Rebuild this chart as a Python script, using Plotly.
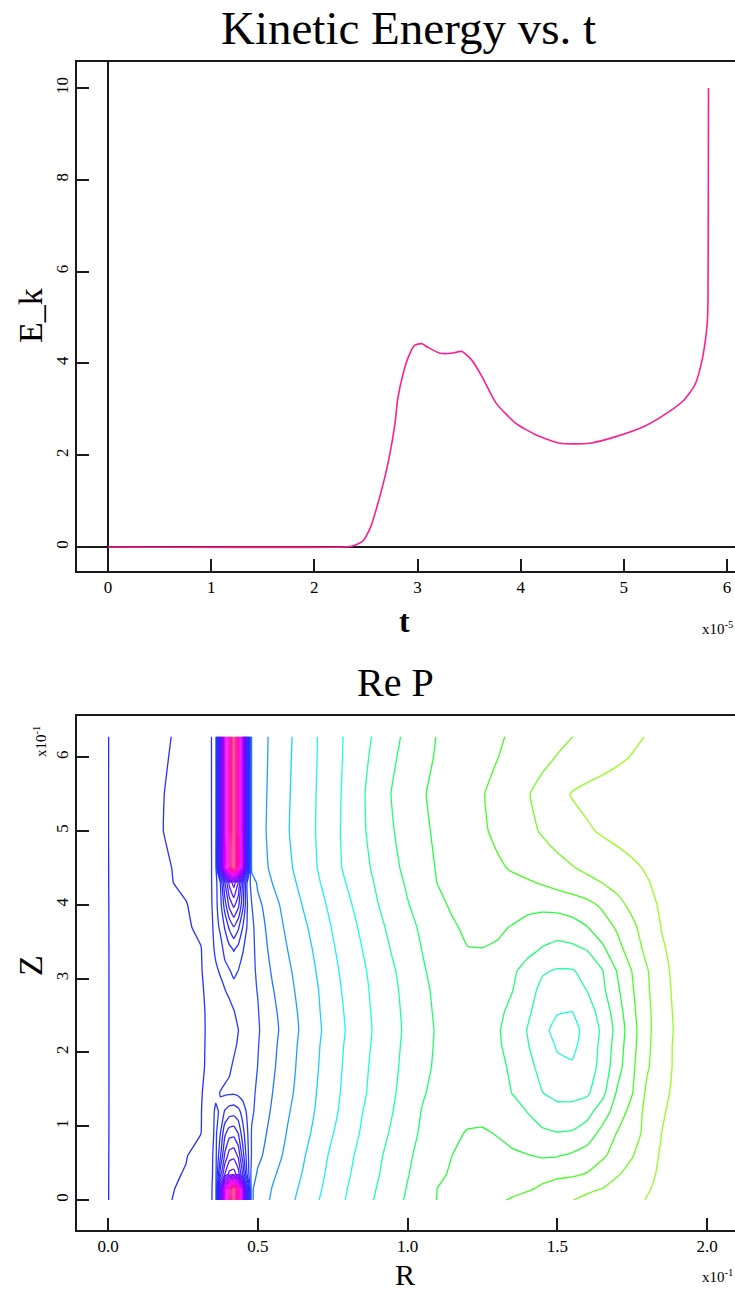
import plotly.graph_objects as go

# ---------------- Kinetic energy history (t in units of 1e-5) ----------------
t_e5 = [0.0, 2.29, 2.37, 2.47, 2.55, 2.61, 2.68, 2.73, 2.78, 2.81, 2.86, 2.91, 2.97,
        3.04, 3.10, 3.22, 3.33, 3.43, 3.53, 3.63, 3.76, 3.95, 4.15, 4.38, 4.67, 4.93,
        5.20, 5.42, 5.59, 5.69, 5.75, 5.79, 5.81, 5.815, 5.818, 5.82]
ek = [0.0, 0.0, 0.02, 0.13, 0.46, 0.9, 1.49, 2.0, 2.66, 3.25, 3.77, 4.13, 4.39,
      4.43, 4.35, 4.22, 4.22, 4.26, 4.06, 3.69, 3.14, 2.70, 2.44, 2.26, 2.26, 2.41,
      2.63, 2.92, 3.22, 3.54, 3.99, 4.50, 4.94, 5.38, 7.5, 10.0]

# ---------------- Re P on the (R, Z) grid, R and Z in units of 1e-1 ----------------
r_e1 = [0, 0.1, 0.18, 0.26, 0.31, 0.345, 0.36, 0.375, 0.39, 0.405, 0.42, 0.435, 0.45,
        0.465, 0.48, 0.5, 0.55, 0.6, 0.65, 0.7, 0.75, 0.8, 0.85, 0.9, 0.95, 1.0, 1.05,
        1.1, 1.15, 1.2, 1.25, 1.3, 1.35, 1.4, 1.45, 1.5, 1.55, 1.6, 1.65, 1.7, 1.75,
        1.8, 1.85, 1.9, 1.95, 2.0]
z_e1 = [0, 0.15, 0.35, 0.6, 0.9, 1.2, 1.45, 1.8, 2.1, 2.3, 2.55, 2.85, 3.1, 3.4, 3.7,
        4.0, 4.3, 4.5, 5.0, 5.5, 6.0, 6.28]

rep = [
    [-0.01, 0.45, 0.8, 1.28, 1.67, 1.95, 2.3, -5, -11, -15, -19.5, -15, -10, -2, 3.9, 4.34, 5.18, 5.72, 6.30, 6.94, 7.52, 8.09, 8.62, 9.14, 9.64, 10.13, 10.6, 11.03, 11.24, 11.45, 11.66, 11.87, 12.09, 12.31, 12.54, 12.76, 12.98, 13.19, 13.4, 13.6, 13.82, 14.03, 14.22, 14.38, 14.5, 14.6],
    [-0.01, 0.42, 0.76, 1.21, 1.64, 1.95, 2.3, -5, -11, -15, -19.5, -15, -10, -2, 3.9, 4.29, 5.06, 5.61, 6.19, 6.83, 7.43, 8.01, 8.53, 9.05, 9.55, 10.05, 10.52, 11.01, 11.15, 11.3, 11.45, 11.6, 11.75, 11.9, 12.12, 12.4, 12.65, 12.85, 13.01, 13.35, 13.65, 13.95, 14.15, 14.35, 14.5, 14.6],
    [-0.01, 0.40, 0.71, 1.07, 1.58, 1.93, 2.2, -1.5, -4.0, -5.3, -5.5, -4.5, -2.0, 1.2, 3.45, 4.14, 4.86, 5.46, 6.04, 6.71, 7.32, 7.89, 8.41, 8.93, 9.44, 9.95, 10.4, 10.85, 11.1, 11.3, 11.45, 11.58, 11.68, 11.73, 11.77, 11.81, 11.85, 12.06, 12.5, 12.92, 13.3, 13.8, 14.15, 14.35, 14.5, 14.6],
    [-0.01, 0.36, 0.65, 0.94, 1.45, 1.91, 2.2, 0.2, -2.2, -3.5, -3.7, -2.8, -0.5, 1.6, 3.1, 3.74, 4.58, 5.25, 5.88, 6.56, 7.2, 7.77, 8.31, 8.82, 9.34, 9.86, 10.27, 10.64, 11.01, 11.2, 11.3, 11.3, 11.2, 11.05, 10.9, 10.95, 11.15, 11.45, 11.85, 12.35, 12.95, 13.5, 14.15, 14.35, 14.5, 14.6],
    [-0.01, 0.32, 0.57, 0.83, 0.98, 1.77, 2.2, 1.0, -0.8, -1.6, -1.7, -1.0, 0.6, 1.85, 3.1, 3.5, 4.36, 5.07, 5.67, 6.30, 6.97, 7.56, 8.12, 8.63, 9.14, 9.69, 10.14, 10.45, 10.78, 11.08, 11.12, 10.95, 10.6, 10.35, 10.15, 10.05, 10.1, 10.5, 11.3, 12.05, 12.65, 13.25, 14.02, 14.3, 14.45, 14.58],
    [-0.01, 0.31, 0.56, 0.81, 0.96, 1.61, 2.2, 1.85, 0.9, 0.5, 0.4, 0.7, 1.4, 2.2, 2.85, 3.29, 4.15, 4.9, 5.52, 6.13, 6.78, 7.39, 7.99, 8.49, 8.98, 9.53, 10.05, 10.35, 10.55, 10.68, 10.7, 10.6, 10.35, 9.98, 9.6, 9.35, 9.4, 9.65, 10.5, 11.45, 12.35, 13.3, 13.9, 14.3, 14.45, 14.58],
    [-0.01, 0.30, 0.55, 0.79, 0.94, 1.38, 1.75, 2.04, 2.16, 2.15, 2.12, 2.25, 2.45, 2.65, 2.85, 3.12, 4.01, 4.75, 5.42, 6.05, 6.69, 7.3, 7.86, 8.38, 8.88, 9.4, 9.92, 10.25, 10.45, 10.55, 10.5, 10.35, 9.98, 9.5, 9.02, 8.7, 8.65, 8.85, 9.7, 11.12, 11.95, 13.2, 13.75, 14.25, 14.42, 14.55],
    [-0.01, 0.30, 0.54, 0.78, 0.93, 1.13, 1.32, 1.52, 1.71, 1.91, 2.09, 2.26, 2.43, 2.6, 2.77, 3.01, 3.86, 4.63, 5.32, 5.96, 6.61, 7.22, 7.79, 8.31, 8.8, 9.29, 9.78, 10.15, 10.3, 10.4, 10.38, 10.25, 9.85, 9.3, 8.7, 8.2, 8.1, 8.45, 9.35, 10.6, 11.8, 12.9, 13.6, 14.2, 14.4, 14.55],
    [-0.01, 0.30, 0.54, 0.78, 0.93, 1.11, 1.26, 1.42, 1.58, 1.74, 1.89, 2.07, 2.27, 2.47, 2.68, 2.95, 3.77, 4.55, 5.26, 5.90, 6.54, 7.16, 7.71, 8.24, 8.74, 9.23, 9.70, 10.12, 10.25, 10.35, 10.3, 10.12, 9.70, 9.06, 8.47, 7.9, 7.8, 8.38, 9.24, 10.45, 11.68, 12.82, 13.58, 14.2, 14.38, 14.52],
    [-0.01, 0.30, 0.54, 0.78, 0.93, 1.10, 1.25, 1.40, 1.55, 1.70, 1.85, 1.99, 2.21, 2.42, 2.62, 2.90, 3.69, 4.47, 5.19, 5.83, 6.47, 7.10, 7.66, 8.2, 8.7, 9.19, 9.66, 10.1, 10.25, 10.35, 10.3, 10.1, 9.62, 8.97, 8.22, 7.75, 7.7, 8.3, 9.16, 10.33, 11.62, 12.78, 13.56, 14.15, 14.35, 14.5],
    [-0.01, 0.30, 0.54, 0.78, 0.93, 1.11, 1.28, 1.45, 1.63, 1.80, 1.97, 2.15, 2.33, 2.52, 2.70, 2.95, 3.78, 4.55, 5.25, 5.89, 6.54, 7.16, 7.71, 8.24, 8.74, 9.23, 9.72, 10.15, 10.3, 10.4, 10.35, 10.2, 9.78, 9.15, 8.59, 8.05, 7.99, 8.58, 9.36, 10.53, 11.76, 12.8, 13.57, 14.2, 14.38, 14.52],
    [-0.01, 0.30, 0.54, 0.78, 0.93, 1.20, 1.46, 1.73, 1.99, 2.14, 2.28, 2.42, 2.56, 2.70, 2.84, 3.03, 3.95, 4.70, 5.36, 5.96, 6.64, 7.25, 7.78, 8.30, 8.80, 9.30, 9.80, 10.2, 10.35, 10.45, 10.4, 10.25, 10.03, 9.40, 8.76, 8.55, 8.6, 9.03, 9.78, 10.83, 11.9, 12.88, 13.64, 14.25, 14.4, 14.55],
    [-0.01, 0.30, 0.55, 0.79, 0.94, 1.43, 1.84, 2.1, 2.15, 2.08, 1.8, 2.02, 2.3, 2.55, 2.8, 3.13, 4.14, 4.83, 5.46, 6.07, 6.75, 7.34, 7.86, 8.38, 8.89, 9.39, 9.90, 10.3, 10.4, 10.5, 10.5, 10.4, 10.15, 9.67, 9.1, 8.9, 8.92, 9.3, 9.93, 11.04, 12.02, 12.93, 13.7, 14.3, 14.45, 14.6],
    [-0.01, 0.31, 0.56, 0.81, 0.96, 1.70, 2.2, 2.2, 1.85, 1.3, 0.9, 1.3, 1.93, 2.34, 2.74, 3.30, 4.36, 5.01, 5.6, 6.22, 6.9, 7.47, 8.01, 8.55, 9.08, 9.55, 10.03, 10.4, 10.75, 10.97, 10.98, 10.9, 10.6, 10.25, 9.95, 9.75, 9.8, 10.05, 10.8, 11.67, 12.5, 13.25, 13.9, 14.3, 14.5, 14.65],
    [-0.01, 0.33, 0.6, 0.87, 1.2, 1.9, 2.2, 1.9, 0.9, -0.2, -1.0, -0.2, 1.0, 2.1, 2.74, 3.48, 4.51, 5.19, 5.79, 6.42, 7.06, 7.63, 8.19, 8.75, 9.26, 9.74, 10.16, 10.51, 10.87, 11.2, 11.3, 11.15, 10.95, 10.6, 10.4, 10.4, 10.6, 10.98, 11.56, 12.13, 12.8, 13.44, 14.05, 14.3, 14.5, 14.65],
    [-0.01, 0.36, 0.65, 0.94, 1.46, 1.96, 2.25, 1.4, -0.5, -2.3, -3.3, -2.3, -0.3, 1.95, 2.99, 3.74, 4.68, 5.38, 6.03, 6.66, 7.26, 7.83, 8.40, 8.97, 9.46, 9.95, 10.35, 10.74, 11.15, 11.35, 11.45, 11.5, 11.45, 11.35, 11.3, 11.35, 11.5, 11.75, 12.15, 12.72, 13.23, 13.7, 14.15, 14.35, 14.5, 14.65],
    [-0.01, 0.43, 0.78, 1.24, 1.68, 1.98, 2.3, 1.0, -2.0, -4.3, -5.5, -4.0, -1.0, 2.2, 3.41, 4.17, 5.03, 5.65, 6.27, 6.89, 7.49, 8.07, 8.61, 9.13, 9.63, 10.12, 10.56, 11.02, 11.3, 11.5, 11.62, 11.72, 11.8, 11.9, 12.08, 12.32, 12.55, 12.77, 13.01, 13.3, 13.6, 13.95, 14.2, 14.4, 14.55, 14.7],
    [-0.01, 0.44, 0.8, 1.29, 1.70, 1.98, 2.3, -5, -11, -15, -19.5, -15, -10, -2, 4.3, 4.46, 5.23, 5.80, 6.41, 7.02, 7.65, 8.22, 8.73, 9.25, 9.77, 10.24, 10.66, 11.07, 11.3, 11.52, 11.75, 11.88, 12.08, 12.3, 12.55, 12.75, 12.95, 13.18, 13.41, 13.64, 13.86, 14.08, 14.28, 14.45, 14.58, 14.7],
    [-0.01, 0.54, 0.97, 1.46, 1.77, 1.99, 2.3, -5, -11, -15, -19.5, -15, -10, -2, 4.25, 4.56, 5.35, 5.94, 6.51, 7.08, 7.69, 8.29, 8.88, 9.42, 9.95, 10.39, 10.83, 11.15, 11.4, 11.64, 11.89, 12.17, 12.48, 12.79, 13.08, 13.35, 13.62, 13.89, 14.1, 14.25, 14.38, 14.48, 14.56, 14.62, 14.68, 14.72],
    [-0.01, 0.53, 0.95, 1.45, 1.76, 1.99, 2.3, -5, -11, -15, -19.5, -15, -10, -2, 4.25, 4.52, 5.31, 5.90, 6.48, 7.06, 7.65, 8.27, 8.9, 9.49, 10.06, 10.5, 10.93, 11.21, 11.45, 11.7, 11.95, 12.27, 12.6, 12.93, 13.31, 13.69, 14.06, 14.25, 14.38, 14.48, 14.55, 14.6, 14.64, 14.68, 14.7, 14.72],
    [-0.01, 0.48, 0.86, 1.36, 1.73, 1.99, 2.3, -5, -11, -15, -19.5, -15, -10, -2, 4.25, 4.46, 5.27, 5.86, 6.44, 7.02, 7.61, 8.2, 8.77, 9.33, 9.87, 10.32, 10.75, 11.09, 11.32, 11.54, 11.76, 11.98, 12.24, 12.5, 12.77, 13.04, 13.24, 13.44, 13.64, 13.84, 14.04, 14.2, 14.33, 14.45, 14.55, 14.62],
    [-0.01, 0.45, 0.81, 1.3, 1.70, 1.99, 2.3, -5, -11, -15, -19.5, -15, -10, -2, 4.25, 4.45, 5.25, 5.83, 6.41, 7.01, 7.6, 8.17, 8.69, 9.21, 9.74, 10.22, 10.65, 11.04, 11.25, 11.47, 11.68, 11.89, 12.11, 12.33, 12.55, 12.77, 12.99, 13.2, 13.41, 13.62, 13.83, 14.04, 14.22, 14.38, 14.5, 14.6],
]

# contour levels and the colour of each level line
level_values = list(range(-19, 15))
level_colors = ["#FF5AAA", "#FF3296", "#FF1490", "#FF10A0", "#FF0CB4", "#FF06C8",
                "#FF00E0", "#F000FF", "#D800FF", "#C000FF", "#A800FF", "#9400FF",
                "#8000FF", "#7008FF", "#6010FF", "#5018FF", "#4420FF", "#3824FF",
                "#3028FF", "#2828FF",
                "#2830FF", "#2838FF", "#2450FF", "#1E78FF", "#1EA0FF", "#1ECDFF",
                "#1EF0FF", "#1EFFD7", "#1EFFA5", "#1EFF73", "#28FF3C", "#46FF1E",
                "#6EFF1E", "#96FF1E"]

# tick positions / labels
t_ticks = [0, 1, 2, 3, 4, 5, 6]
ek_ticks = [0, 2, 4, 6, 8, 10]
r_ticks = [0.0, 0.5, 1.0, 1.5, 2.0]
r_ticktext = ["0.0", "0.5", "1.0", "1.5", "2.0"]
z_ticks = [0, 1, 2, 3, 4, 5, 6]

W, H = 735, 1291
SERIF = "Liberation Serif, Times New Roman, serif"
INK = "#1a1a1a"


def px_x(p):
    return p / W


def px_y(p):
    return 1 - p / H


fig = go.Figure()

fig.add_trace(go.Scatter(
    x=t_e5, y=ek, mode="lines", xaxis="x", yaxis="y",
    line=dict(color="#FF2090", width=1.6, shape="spline", smoothing=0.6),
    showlegend=False, hoverinfo="skip"))

lo, hi = level_values[0], level_values[-1]
colorscale = [[(v - lo) / (hi - lo), c] for v, c in zip(level_values, level_colors)]

fig.add_trace(go.Contour(
    x=r_e1, y=z_e1, z=rep, xaxis="x2", yaxis="y2",
    autocontour=False,
    contours=dict(start=lo, end=hi, size=1, coloring="lines"),
    colorscale=colorscale, showscale=False,
    line=dict(width=1.3, smoothing=0.3), hoverinfo="skip"))

axis_common = dict(
    showline=True, linecolor=INK, linewidth=2, ticks="inside", ticklen=12,
    tickwidth=1.5, tickcolor=INK, showgrid=False,
    tickfont=dict(family=SERIF, size=17, color="black"))

top_dom = [px_y(571), px_y(62)]
bot_dom = [px_y(1230), px_y(716)]
x_dom = [px_x(77), 1.0]

fig.update_layout(
    width=W, height=H, margin=dict(l=0, r=0, t=0, b=0),
    paper_bgcolor="white", plot_bgcolor="white", showlegend=False,
    xaxis=dict(domain=x_dom, anchor="y", range=[-0.3, 6.077], tickvals=t_ticks,
               mirror=True, zeroline=True, zerolinecolor=INK, zerolinewidth=1.6,
               **axis_common),
    yaxis=dict(domain=top_dom, anchor="x", range=[-0.523, 10.566], tickvals=ek_ticks,
               tickangle=-90, zeroline=True, zerolinecolor=INK, zerolinewidth=1.6,
               **axis_common),
    xaxis2=dict(domain=x_dom, anchor="y2", range=[-0.1035, 2.0935], tickvals=r_ticks,
                ticktext=r_ticktext, mirror=True, zeroline=False, **axis_common),
    yaxis2=dict(domain=bot_dom, anchor="x2", range=[-0.4065, 6.558], tickvals=z_ticks,
                tickangle=-90, zeroline=False, **axis_common),
)


def note(text, x, y, size, angle=0, xanchor="center", yanchor="middle"):
    fig.add_annotation(text=text, x=px_x(x), y=px_y(y), xref="paper", yref="paper",
                       showarrow=False, textangle=angle, xanchor=xanchor,
                       yanchor=yanchor, font=dict(family=SERIF, size=size, color="black"))


note("Kinetic Energy vs. t", 408, 28, 47)
note("Re P", 395, 683, 40)
note("E_k", 30, 315, 34, angle=-90)
note("<b>t</b>", 405, 621, 32)
note("Z", 30, 965, 34, angle=-90)
note("R", 405, 1274, 30)
note("x10<sup>-5</sup>", 735, 628, 15, xanchor="right")
note("x10<sup>-1</sup>", 735, 1276, 15, xanchor="right")
note("x10<sup>-1</sup>", 40, 742, 15, angle=-90)

fig.write_html("out.html")
